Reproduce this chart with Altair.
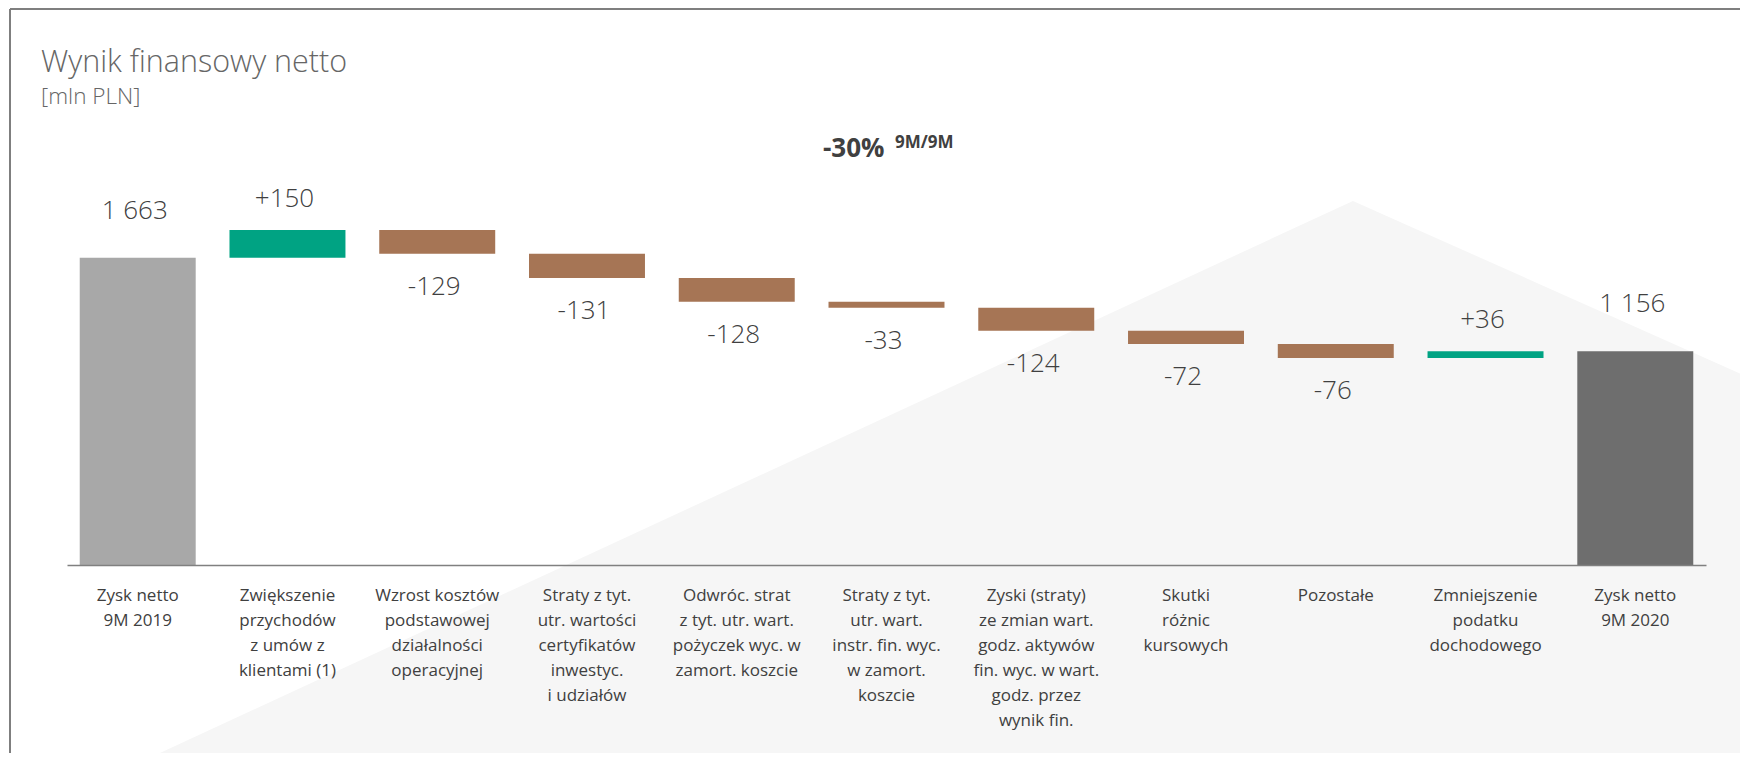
import altair as alt
import pandas as pd

# ---- data ----
categories = [
    "Zysk netto|9M 2019",
    "Zwiększenie|przychodów|z umów z|klientami (1)",
    "Wzrost kosztów|podstawowej|działalności|operacyjnej",
    "Straty z tyt.|utr. wartości|certyfikatów|inwestyc.|i udziałów",
    "Odwróc. strat|z tyt. utr. wart.|pożyczek wyc. w|zamort. koszcie",
    "Straty z tyt.|utr. wart.|instr. fin. wyc.|w zamort.|koszcie",
    "Zyski (straty)|ze zmian wart.|godz. aktywów|fin. wyc. w wart.|godz. przez|wynik fin.",
    "Skutki|różnic|kursowych",
    "Pozostałe",
    "Zmniejszenie|podatku|dochodowego",
    "Zysk netto|9M 2020",
]
values = [1663, 150, -129, -131, -128, -33, -124, -72, -76, 36, 1156]
kinds = ["start", "up", "down", "down", "down", "down", "down", "down", "down", "up", "end"]

kind_domain = ["start", "up", "down", "end"]
kind_colors = ["#a8a8a8", "#00a383", "#a67555", "#6e6e6e"]

# decorative background "roof" (fractions of plot width / height)
roof_x = [0.0567, 0.7846, 1.0207]
roof_y = [-0.4069, 0.7879, 0.4147]
roof_base = -0.4069

# ---- waterfall table ----
rows = []
run = 0
for c, v, k in zip(categories, values, kinds):
    if k in ("start", "end"):
        s, e = 0, v
        run = v
        lab = f"{v:,}".replace(",", " ")
    else:
        s, e = run, run + v
        run = e
        lab = f"{v:+d}"
    rows.append({"cat": c, "start": s, "end": e, "kind": k, "label": lab})
df = pd.DataFrame(rows)
roof_df = pd.DataFrame({"rx": roof_x, "ry": roof_y, "rb": [roof_base] * len(roof_x)})

W, H = 1639, 462
TXT = "#404040"
FONT = "Open Sans"

x_axis = alt.X(
    "cat:N",
    sort=categories,
    scale=alt.Scale(paddingInner=0.2256, paddingOuter=0.085),
    axis=alt.Axis(
        title=None,
        labelExpr="split(datum.label, '|')",
        ticks=False,
        tickSize=0,
        domainColor="#808080",
        domainWidth=1.5,
        labelFont=FONT,
        labelFontSize=17,
        labelColor=TXT,
        labelLineHeight=25,
        labelPadding=22,
        labelBaseline="top",
        labelOverlap=False,
        labelAngle=0,
        labelLimit=300,
        grid=False,
        zindex=1,
    ),
)
x_plain = alt.X("cat:N", sort=categories)
y_scale = alt.Scale(domain=[0, 2500], nice=False)

bars = alt.Chart(df).mark_bar().encode(
    x=x_axis,
    y=alt.Y("start:Q", scale=y_scale, axis=None),
    y2="end:Q",
    color=alt.Color("kind:N", scale=alt.Scale(domain=kind_domain, range=kind_colors), legend=None),
)

def value_labels(kind_filter, dy):
    return (
        alt.Chart(df)
        .transform_filter(kind_filter)
        .mark_text(font=FONT, fontSize=26, fontWeight=300, color=TXT,
                   baseline="alphabetic", dy=dy, dx=-3)
        .encode(x=x_plain, y=alt.Y("end:Q", scale=y_scale, axis=None), text="label:N")
    )

lab_tot = value_labels("datum.kind == 'start' || datum.kind == 'end'", -39)
lab_up = value_labels("datum.kind == 'up'", -23)
lab_down = value_labels("datum.kind == 'down'", 41)

def note(text, x, y, size, weight, color):
    return alt.Chart(alt.Data(values=[{"t": text}])).mark_text(
        align="left", baseline="alphabetic", font=FONT, fontSize=size,
        fontWeight=weight, color=color,
    ).encode(x=alt.value(x), y=alt.value(y), text="t:N")

title = note("Wynik finansowy netto", -26, -31, 30.5, 300, "#666666")
subtitle = note("[mln PLN]", -26, 1, 22.5, 300, "#666666")
change = note("-30%", 756, 54, 26, "bold", TXT)
change_sup = note("9M/9M", 828, 45, 17, "bold", TXT)

one = alt.Data(values=[{"a": 1}])
frame_top = alt.Chart(one).mark_rule(color="#7f7f7f", strokeWidth=2).encode(
    x=alt.value(-57), x2=alt.value(W + 40), y=alt.value(-94)
)
frame_left = alt.Chart(one).mark_rule(color="#7f7f7f", strokeWidth=2).encode(
    x=alt.value(-57), y=alt.value(-94), y2=alt.value(H + 200)
)

roof = alt.Chart(roof_df).mark_area(color="#f6f6f6", interpolate="linear").encode(
    x=alt.X("rx:Q", scale=alt.Scale(domain=[0, 1], nice=False, zero=False), axis=None),
    y=alt.Y("ry:Q", scale=alt.Scale(domain=[0, 1], nice=False, zero=False), axis=None),
    y2="rb:Q",
)

inner = alt.layer(bars, lab_tot, lab_up, lab_down, title, subtitle, change, change_sup,
                  frame_top, frame_left)

chart = (
    alt.layer(roof, inner)
    .resolve_scale(x="independent", y="independent")
    .properties(
        width=W,
        height=H,
        padding={"left": 59, "top": 95, "right": 34, "bottom": 188},
        autosize=alt.AutoSizeParams(type="none"),
        background="white",
    )
    .configure_view(stroke=None)
)

chart.save("out.html", embed_options={"renderer": "svg", "actions": False})
